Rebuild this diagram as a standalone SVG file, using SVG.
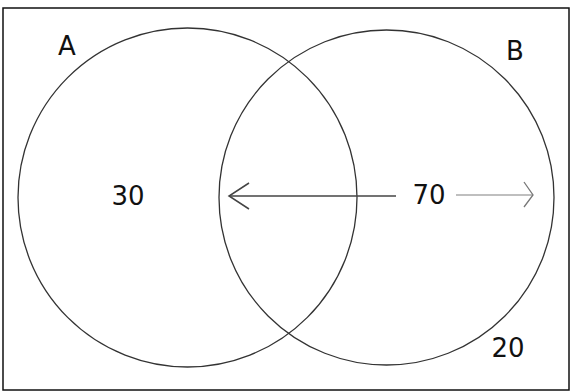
<svg xmlns="http://www.w3.org/2000/svg" width="571" height="392" viewBox="0 0 571 392">
<style>
.c{fill:none;stroke:#333;stroke-width:1.3}
.t{font-family:"DejaVu Sans",sans-serif;font-size:26px;fill:#111}
</style>
<rect x="0" y="0" width="571" height="392" fill="#fff"/>
<rect x="3" y="8" width="566" height="382" fill="none" stroke="#111" stroke-width="1.5"/>
<g id="setA"><circle class="c" cx="187.5" cy="197.5" r="169.5"/><text class="t" x="67" y="55" text-anchor="middle">A</text></g>
<g id="setB"><circle class="c" cx="386.5" cy="197.5" r="167.5"/><text class="t" x="515" y="60" text-anchor="middle">B</text></g>
<g id="labels">
<text class="t" x="128" y="205" text-anchor="middle">30</text>
<text class="t" x="429" y="204" text-anchor="middle">70</text>
<text class="t" x="508" y="357" text-anchor="middle">20</text>
</g>
<g id="connectors">
<line x1="396" y1="196" x2="230" y2="196" stroke="#444" stroke-width="1.5"/>
<polyline points="249,183 229,196 249,209" fill="none" stroke="#444" stroke-width="1.5"/>
<line x1="456" y1="195" x2="532" y2="195" stroke="#aaa" stroke-width="1.5"/>
<polyline points="524,182 533,195 524,207" fill="none" stroke="#777" stroke-width="1.3"/>
</g>
</svg>
